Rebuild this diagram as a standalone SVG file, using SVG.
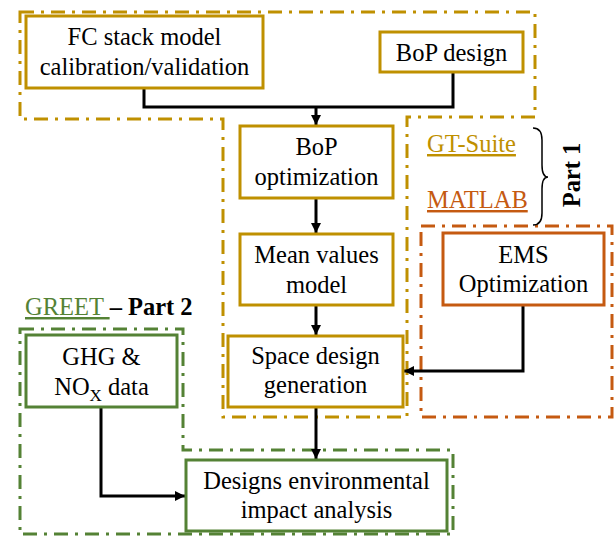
<svg xmlns="http://www.w3.org/2000/svg" width="615" height="536" viewBox="0 0 615 536">
<style>
text{font-family:"Liberation Serif","Times New Roman",serif;font-size:24.5px;fill:#000;text-anchor:middle}
.box{fill:#fff;stroke-width:3}
.gold{stroke:#BF9000}
.green{stroke:#548235}
.orange{stroke:#C55A11}
.region{fill:none;stroke-width:3;stroke-dasharray:14 7 3 7}
.conn{fill:none;stroke:#000;stroke-width:3}
.lbl{text-anchor:start}
</style>
<defs>
<marker id="arr" viewBox="0 0 10 10" refX="10" refY="5" markerWidth="10" markerHeight="10" markerUnits="userSpaceOnUse" orient="auto">
<path d="M0,0 L10,5 L0,10 z" fill="#000"/>
</marker>
</defs>
<g id="regions">
<path class="region gold" d="M20,12 H535 V117 H407 V417 H223 V119 H20 Z"/>
<path class="region green" d="M20,329 H183 V450 H453 V534 H20 Z"/>
<rect class="region orange" x="421" y="226" width="191" height="191"/>
</g>
<g id="connectors">
<path class="conn" d="M144,88 V107 H453 V72"/>
<path class="conn" d="M316,107 V125" marker-end="url(#arr)"/>
<path class="conn" d="M316,198 V233" marker-end="url(#arr)"/>
<path class="conn" d="M316,305 V335" marker-end="url(#arr)"/>
<path class="conn" d="M316,407 V459" marker-end="url(#arr)"/>
<path class="conn" d="M101,407 V496 H185" marker-end="url(#arr)"/>
<path class="conn" d="M523,305 V371 H404" marker-end="url(#arr)"/>
</g>
<g id="fc-stack">
<rect class="box gold" x="26" y="16" width="237" height="72"/>
<text x="144.5" y="45">FC stack model</text>
<text x="144.5" y="75">calibration/validation</text>
</g>
<g id="bop-design">
<rect class="box gold" x="380" y="32" width="143" height="40"/>
<text x="451.5" y="61">BoP design</text>
</g>
<g id="bop-optimization">
<rect class="box gold" x="240" y="126" width="153" height="72"/>
<text x="316.5" y="155">BoP</text>
<text x="316.5" y="185">optimization</text>
</g>
<g id="mean-values">
<rect class="box gold" x="240" y="234" width="153" height="71"/>
<text x="316.5" y="263">Mean values</text>
<text x="316.5" y="293">model</text>
</g>
<g id="space-design">
<rect class="box gold" x="228" y="336" width="175" height="71"/>
<text x="315.5" y="364">Space design</text>
<text x="315.5" y="393">generation</text>
</g>
<g id="ems">
<rect class="box orange" x="443" y="233" width="161" height="72"/>
<text x="523.5" y="263">EMS</text>
<text x="523.5" y="292">Optimization</text>
</g>
<g id="ghg">
<rect class="box green" x="26" y="335" width="151" height="72"/>
<text x="101.5" y="365">GHG &amp;</text>
<text x="101.5" y="395">NO<tspan font-size="17" dy="6">X</tspan><tspan dy="-6"> data</tspan></text>
</g>
<g id="designs-env">
<rect class="box green" x="186" y="460" width="261" height="71"/>
<text x="316.5" y="489">Designs environmental</text>
<text x="316.5" y="518">impact analysis</text>
</g>
<g id="labels">
<text class="lbl" x="427" y="152" fill="#BF9000" style="fill:#BF9000" text-decoration="underline">GT-Suite</text>
<text class="lbl" x="427" y="208" style="fill:#C55A11" text-decoration="underline">MATLAB</text>
<path d="M533,128 Q542,128 542,140 V165 Q542,177 548,177 Q542,177 542,189 V213 Q542,225 533,225" fill="none" stroke="#000" stroke-width="1.5"/>
<text x="580" y="175" font-weight="bold" transform="rotate(-90 580 175)">Part 1</text>
<text class="lbl" x="25" y="315"><tspan style="fill:#548235" text-decoration="underline">GREET </tspan><tspan font-weight="bold">– Part 2</tspan></text>
</g>
</svg>
